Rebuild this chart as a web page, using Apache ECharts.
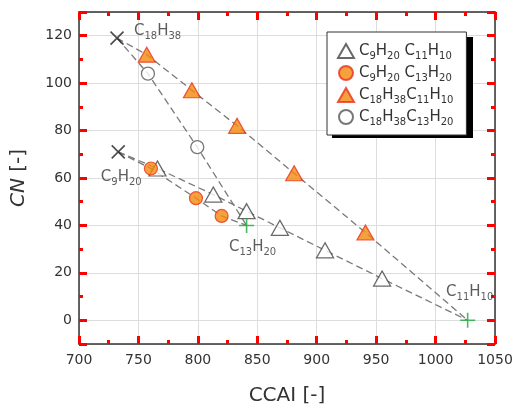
<!DOCTYPE html>
<html>
<head>
<meta charset="utf-8">
<script src="https://cdn.jsdelivr.net/npm/echarts@6/dist/echarts.min.js"></script>
<style>
html,body{margin:0;padding:0;background:#fff;}
#chartDom{width:527px;height:411px;}
</style>
</head>
<body>
<div id="chartDom"></div>
<script>
// 纯组分端点
var crossNames = ['C18H38', 'C9H20'];
var crossPoints = [[732, 119], [733, 71]];
var plusNames = ['C13H20', 'C11H10'];
var plusPoints = [[841, 40], [1027, 0]];

// 混合物
var seriesNames = ['C9H20 C11H10', 'C9H20 C13H20', 'C18H38C11H10', 'C18H38C13H20'];
var c9c11 = [[766, 64], [813, 53], [841, 46], [869, 39], [907, 29.5], [955, 17.6]];
var c9c13 = [[760.5, 64], [798.4, 51.5], [820, 44]];
var c18c11 = [[757, 112], [795, 97], [833, 82], [881, 62], [941, 37]];
var c18c13 = [[758, 104], [799.5, 73]];

var xTickLabels = [700, 750, 800, 850, 900, 950, 1000, 1050];
var yTickLabels = [0, 20, 40, 60, 80, 100, 120];

var font = 'DejaVu Sans';
var textColor = '#333';

function chem(s) {
  return s.replace(/(\d+)/g, '{s|$1}');
}
var subRich = { s: { fontSize: 10, lineHeight: 12, verticalAlign: 'bottom', fontFamily: font, color: textColor } };

var crossLabel = [{ align: 'left', offset: [17, -7] }, { align: 'center', offset: [3, 25] }];
var plusLabel = [{ align: 'center', offset: [6, 22] }, { align: 'center', offset: [2, -28] }];

function endpointData(points, names, labels) {
  return points.map(function (p, i) {
    return {
      value: p,
      label: {
        show: true, position: 'inside', verticalAlign: 'middle',
        align: labels[i].align, offset: labels[i].offset,
        formatter: chem(names[i]),
        fontSize: 15, lineHeight: 20, fontFamily: font, color: textColor, rich: subRich
      }
    };
  });
}

function dashLine(pts) {
  return {
    type: 'line', data: pts, symbol: 'none', silent: true, z: 1,
    lineStyle: { color: '#7a7a7a', width: 1.3, type: [7, 4] }
  };
}

// 刻度样式，每个轴单独一份（临时用红色检查是否画出）
function tick(len) {
  return { show: true, inside: true, length: len, lineStyle: { color: 'red', width: 3 } };
}
function minorX() {
  return { show: true, splitNumber: 2, length: 4, lineStyle: { color: 'red', width: 3 } };
}
function axisLine() {
  return { show: true, onZero: false, lineStyle: { color: '#333', width: 1.5 } };
}
function noLabel() { return { show: false }; }
function noSplit() { return { show: false }; }
function gridLine() { return { show: true, lineStyle: { color: '#ddd', width: 1 } }; }

var chartDom = document.getElementById('chartDom');
var myChart = echarts.init(chartDom);

var option = {
  animation: false,
  backgroundColor: '#fff',
  grid: { left: 79, right: 32, top: 12, bottom: 64 },
  // 图例阴影
  graphic: [{
    type: 'rect', z: 90, silent: true,
    shape: { x: 332, y: 37, width: 141, height: 101 },
    style: { fill: '#000' }
  }],
  legend: {
    orient: 'vertical', left: 327, top: 32, z: 100,
    data: seriesNames,
    backgroundColor: '#fff', borderColor: '#333', borderWidth: 1,
    padding: [9, 13, 8, 10], itemGap: 2, itemWidth: 16, itemHeight: 14, itemTextGap: 10,
    formatter: function (name) { return chem(name); },
    textStyle: { fontSize: 15, lineHeight: 20, fontFamily: font, color: textColor, rich: subRich }
  },
  xAxis: [
    {
      type: 'value', position: 'bottom', min: 700, max: 1050, interval: 50, z: 3,
      name: 'CCAI [-]', nameLocation: 'middle', nameGap: 42,
      nameTextStyle: { fontSize: 20, fontFamily: font, color: textColor },
      axisLine: axisLine(), axisTick: tick(8), minorTick: minorX(),
      axisLabel: { fontSize: 14, fontFamily: font, color: textColor, margin: 9,
        formatter: function (v) { return xTickLabels.indexOf(v) >= 0 ? String(v) : ''; } },
      splitLine: noSplit()
    },
    {
      type: 'value', position: 'top', min: 700, max: 1050, interval: 50, z: 3,
      axisLine: axisLine(), axisTick: tick(8), minorTick: minorX(),
      axisLabel: noLabel(), splitLine: noSplit()
    },
    {
      // 只画网格线
      type: 'value', position: 'bottom', min: 700, max: 1050, interval: 50, z: 0,
      axisLine: { show: false, onZero: false }, axisTick: { show: false },
      axisLabel: noLabel(), splitLine: gridLine()
    }
  ],
  yAxis: [
    {
      type: 'value', position: 'left', min: -10, max: 130, splitNumber: 7, z: 3,
      name: '{i|CN} [-]', nameLocation: 'middle', nameGap: 50, nameRotate: 90,
      nameTextStyle: { fontSize: 20, fontFamily: font, color: textColor,
        rich: { i: { fontSize: 20, fontStyle: 'italic', fontFamily: font, color: textColor } } },
      axisLine: axisLine(), axisTick: tick(8),
      axisLabel: { fontSize: 14, fontFamily: font, color: textColor, margin: 7,
        formatter: function (v) { return yTickLabels.indexOf(v) >= 0 ? String(v) : ''; } },
      splitLine: noSplit()
    },
    {
      type: 'value', position: 'left', min: -10, max: 130, interval: 10, z: 3,
      axisLine: { show: false, onZero: false }, axisTick: tick(4),
      axisLabel: noLabel(), splitLine: noSplit()
    },
    {
      type: 'value', position: 'right', min: -10, max: 130, splitNumber: 7, z: 3,
      axisLine: axisLine(), axisTick: tick(8),
      axisLabel: noLabel(), splitLine: noSplit()
    },
    {
      type: 'value', position: 'right', min: -10, max: 130, interval: 10, z: 3,
      axisLine: { show: false, onZero: false }, axisTick: tick(4),
      axisLabel: noLabel(), splitLine: noSplit()
    },
    {
      // 只画网格线
      type: 'value', position: 'left', min: -10, max: 130, splitNumber: 7, z: 0,
      axisLine: { show: false, onZero: false }, axisTick: { show: false },
      axisLabel: noLabel(), splitLine: gridLine()
    }
  ],
  series: [
    dashLine([crossPoints[0]].concat(c18c11, [plusPoints[1]])),
    dashLine([crossPoints[0]].concat(c18c13, [plusPoints[0]])),
    dashLine([crossPoints[1]].concat(c9c11, [plusPoints[1]])),
    dashLine([crossPoints[1]].concat(c9c13, [plusPoints[0]])),
    {
      name: seriesNames[0], type: 'scatter', data: c9c11, z: 3,
      symbol: 'triangle', symbolSize: [17, 15],
      itemStyle: { color: '#fff', borderColor: '#444', borderWidth: 1.3 }
    },
    {
      name: seriesNames[1], type: 'scatter', data: c9c13, z: 3,
      symbol: 'circle', symbolSize: 13,
      itemStyle: { color: '#f58a0c', borderColor: '#e8321e', borderWidth: 1.2 }
    },
    {
      name: seriesNames[2], type: 'scatter', data: c18c11, z: 3,
      symbol: 'triangle', symbolSize: [17, 15],
      itemStyle: { color: '#f58a0c', borderColor: '#e8321e', borderWidth: 1.2 }
    },
    {
      name: seriesNames[3], type: 'scatter', data: c18c13, z: 3,
      symbol: 'circle', symbolSize: 13,
      itemStyle: { color: '#fff', borderColor: '#555', borderWidth: 1.3 }
    },
    {
      type: 'scatter', z: 4, silent: true,
      symbol: 'path://M0,0L10,10M10,0L0,10', symbolSize: 13,
      itemStyle: { color: 'rgba(0,0,0,0)', borderColor: '#222', borderWidth: 1.6 },
      data: endpointData(crossPoints, crossNames, crossLabel)
    },
    {
      type: 'scatter', z: 4, silent: true,
      symbol: 'path://M5,0L5,10M0,5L10,5', symbolSize: 15,
      itemStyle: { color: 'rgba(0,0,0,0)', borderColor: '#1fa83a', borderWidth: 1.6 },
      data: endpointData(plusPoints, plusNames, plusLabel)
    }
  ]
};
option && myChart.setOption(option);
</script>
</body>
</html>
